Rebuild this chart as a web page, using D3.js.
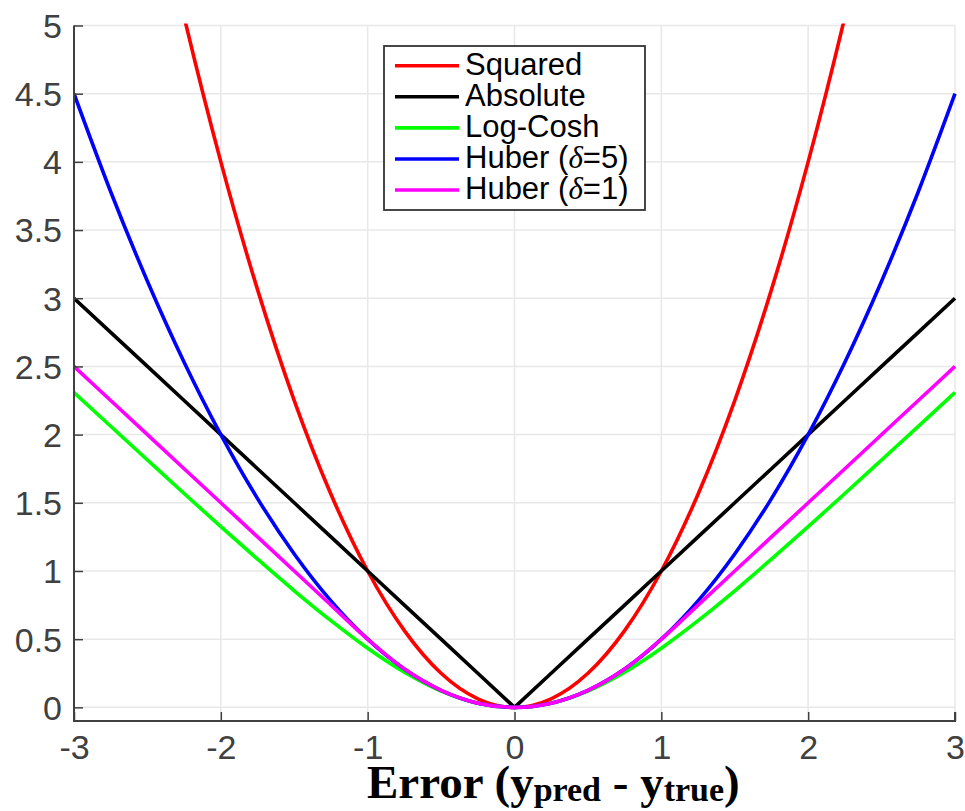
<!DOCTYPE html>
<html>
<head>
<meta charset="utf-8">
<script src="https://cdn.jsdelivr.net/npm/d3@7"></script>
<style>
  html, body { margin: 0; padding: 0; background: #fff; }
  svg { display: block; }
</style>
</head>
<body>
<svg id="chart" width="965" height="811"></svg>
<script>
// ---- data ----
const errors = [-3, -2.75, -2.5, -2.25, -2, -1.75, -1.5, -1.25, -1, -0.75, -0.5, -0.25, 0,
                0.25, 0.5, 0.75, 1, 1.25, 1.5, 1.75, 2, 2.25, 2.5, 2.75, 3];
const squared  = [9, 7.563, 6.25, 5.063, 4, 3.063, 2.25, 1.563, 1, 0.563, 0.25, 0.063, 0,
                  0.063, 0.25, 0.563, 1, 1.563, 2.25, 3.063, 4, 5.063, 6.25, 7.563, 9];
const absolute = [3, 2.75, 2.5, 2.25, 2, 1.75, 1.5, 1.25, 1, 0.75, 0.5, 0.25, 0,
                  0.25, 0.5, 0.75, 1, 1.25, 1.5, 1.75, 2, 2.25, 2.5, 2.75, 3];
const logCosh  = [2.309, 2.061, 1.814, 1.568, 1.325, 1.087, 0.855, 0.636, 0.434, 0.258, 0.120, 0.031, 0,
                  0.031, 0.120, 0.258, 0.434, 0.636, 0.855, 1.087, 1.325, 1.568, 1.814, 2.061, 2.309];
const huber5   = [4.5, 3.781, 3.125, 2.531, 2, 1.531, 1.125, 0.781, 0.5, 0.281, 0.125, 0.031, 0,
                  0.031, 0.125, 0.281, 0.5, 0.781, 1.125, 1.531, 2, 2.531, 3.125, 3.781, 4.5];
const huber1   = [2.5, 2.25, 2, 1.75, 1.5, 1.25, 1, 0.75, 0.5, 0.281, 0.125, 0.031, 0,
                  0.031, 0.125, 0.281, 0.5, 0.75, 1, 1.25, 1.5, 1.75, 2, 2.25, 2.5];
const seriesNames  = ["Squared", "Absolute", "Log-Cosh", "Huber (δ=5)", "Huber (δ=1)"];
const seriesColors = ["#ff0000", "#000000", "#00ff00", "#0000ff", "#ff00ff"];
const xTicks = [-3, -2, -1, 0, 1, 2, 3];
const yTicks = [0, 0.5, 1, 1.5, 2, 2.5, 3, 3.5, 4, 4.5, 5];
const xDomain = [-3, 3];
const yDomain = [-0.1, 5];

const seriesValues = [squared, absolute, logCosh, huber5, huber1];

// ---- layout ----
const mLeft = 74, mRight = 955, mTop = 25.5, mBottom = 721;
const svg = d3.select("#chart");
const x = d3.scaleLinear().domain(xDomain).range([mLeft, mRight]);
const y = d3.scaleLinear().domain(yDomain).range([mBottom, mTop]);

const axisColor = "#404040";
const gridColor = "#e8e8e8";
const tickFont = "'Liberation Sans', Arial, Helvetica, sans-serif";

// grid
const grid = svg.append("g");
grid.selectAll(".gx").data(xTicks.filter(d => d !== xDomain[0])).join("line")
  .attr("x1", d => x(d)).attr("x2", d => x(d))
  .attr("y1", mBottom).attr("y2", y(5))
  .attr("stroke", gridColor).attr("stroke-width", 1.5);
grid.selectAll(".gy").data(yTicks).join("line")
  .attr("x1", mLeft).attr("x2", mRight)
  .attr("y1", d => y(d)).attr("y2", d => y(d))
  .attr("stroke", gridColor).attr("stroke-width", 1.5);

// clip
svg.append("clipPath").attr("id", "plotclip").append("rect")
  .attr("x", mLeft).attr("y", y(5) - 2).attr("width", mRight - mLeft + 3).attr("height", mBottom - y(5) + 2);

// lines
const plot = svg.append("g").attr("clip-path", "url(#plotclip)");
seriesValues.forEach((vals, i) => {
  const pts = errors.map((e, j) => [e, vals[j]]);
  const gen = d3.line()
    .x(d => x(d[0])).y(d => y(d[1]))
    .curve(i === 1 ? d3.curveLinear : d3.curveMonotoneX);
  plot.append("path")
    .attr("d", gen(pts))
    .attr("fill", "none")
    .attr("stroke", seriesColors[i])
    .attr("stroke-width", 3.6)
    .attr("stroke-linejoin", "round");
});

// axes
const yAxis = d3.axisLeft(y).tickValues(yTicks).tickSize(-9).tickPadding(12)
  .tickFormat(d => String(d));
const gy = svg.append("g").attr("transform", `translate(${mLeft},0)`).call(yAxis);
gy.select(".domain").remove();
gy.selectAll(".tick line").attr("stroke", axisColor).attr("stroke-width", 1.5);
gy.selectAll(".tick text").attr("fill", axisColor)
  .style("font-family", tickFont).style("font-size", "34px").attr("dy", "0.35em");

const xAxis = d3.axisBottom(x).tickValues(xTicks).tickSize(-9).tickPadding(14)
  .tickFormat(d => String(d));
const gx = svg.append("g").attr("transform", `translate(0,${mBottom})`).call(xAxis);
gx.select(".domain").remove();
gx.selectAll(".tick line").attr("stroke", axisColor).attr("stroke-width", 1.5);
gx.selectAll(".tick text").attr("fill", axisColor)
  .style("font-family", tickFont).style("font-size", "34px").attr("dy", "0.71em");

// axis lines (left and bottom)
svg.append("path")
  .attr("d", `M${mLeft},${mTop}V${mBottom}H${mRight}V${mBottom - 9}`)
  .attr("fill", "none").attr("stroke", axisColor).attr("stroke-width", 2);

// x label
const xl = svg.append("text")
  .attr("x", 367).attr("y", 798)
  .attr("fill", "#000")
  .style("font-family", "'Liberation Serif', 'DejaVu Serif', serif")
  .style("font-weight", "bold")
  .style("font-size", "47px");
xl.append("tspan").text("Error (y");
xl.append("tspan").text("pred").style("font-size", "34px").attr("dy", 3);
xl.append("tspan").text(" - y").attr("dy", -3);
xl.append("tspan").text("true").style("font-size", "34px").attr("dy", 3);
xl.append("tspan").text(")").attr("dy", -3);

// legend
const lg = svg.append("g");
lg.append("rect").attr("x", 384).attr("y", 46).attr("width", 261).attr("height", 164)
  .attr("fill", "#fff").attr("stroke", "#333").attr("stroke-width", 1.8);
const rowY = d3.scaleLinear().domain([0, 4]).range([65.7, 190]);
seriesNames.forEach((name, i) => {
  const yy = rowY(i);
  lg.append("line").attr("x1", 395).attr("x2", 459).attr("y1", yy).attr("y2", yy)
    .attr("stroke", seriesColors[i]).attr("stroke-width", 3.6);
  const t = lg.append("text").attr("x", 465).attr("y", yy + 9)
    .attr("fill", "#000")
    .style("font-family", tickFont).style("font-size", "31px");
  const m = name.match(/^(.*\()δ(=.*)$/);
  if (m) {
    t.append("tspan").text(m[1]);
    t.append("tspan").text("δ").style("font-style", "italic")
      .style("font-family", "'Liberation Serif', 'DejaVu Serif', serif");
    t.append("tspan").text(m[2]);
  } else {
    t.text(name);
  }
});
</script>
</body>
</html>
